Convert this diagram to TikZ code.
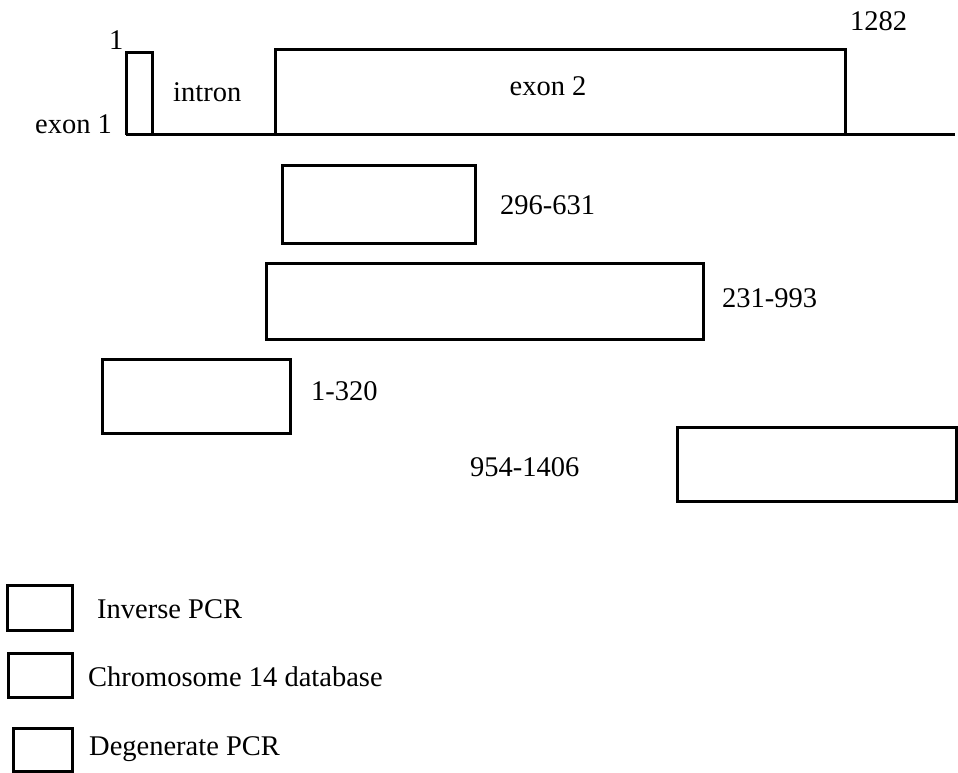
\documentclass[tikz,border=0pt]{standalone}
\usepackage{fontspec}
\setmainfont{Liberation Serif}
\begin{document}
\begin{tikzpicture}[x=1pt,y=-1pt,
  lbl/.style={anchor=base west,inner sep=0pt,font=\fontsize{28.5}{34}\selectfont},
  bx/.style={draw=black,line width=3pt},
  ln/.style={draw=black,line width=3pt,line join=miter}]
\useasboundingbox (0,0) rectangle (958,773);
% gene structure
\draw[ln] (126,135) -- (126,53) -- (152,53) -- (152,135);
\draw[ln] (275,135) -- (275,50) -- (845,50) -- (845,135);
\draw[ln] (126,135) -- (955,135);
\node[lbl] (one) at (109,50) {1};
\node[lbl] (ex1) at (35,134) {exon 1};
\node[lbl] (intr) at (173,102) {intron};
\node[lbl,anchor=base] (ex2) at (548,96) {exon 2};
\node[lbl] (end) at (850,31) {1282};
% fragments
\draw[bx] (282,165) rectangle (475,243);
\node[lbl] (f1) at (500,214) {296-631};
\draw[bx] (266,263) rectangle (703,339);
\node[lbl] (f2) at (722,307) {231-993};
\draw[bx] (102,359) rectangle (290,433);
\node[lbl] (f3) at (311,400) {1-320};
\draw[bx] (677,427) rectangle (956,501);
\node[lbl] (f4) at (470,476) {954-1406};
% legend
\draw[bx] (7,585) rectangle (72,630);
\node[lbl] (l1) at (97,618) {Inverse PCR};
\draw[bx] (8,653) rectangle (72,697);
\node[lbl] (l2) at (88,686) {Chromosome 14 database};
\draw[bx] (13,728) rectangle (72,771);
\node[lbl] (l3) at (89,755) {Degenerate PCR};
\end{tikzpicture}
\end{document}
